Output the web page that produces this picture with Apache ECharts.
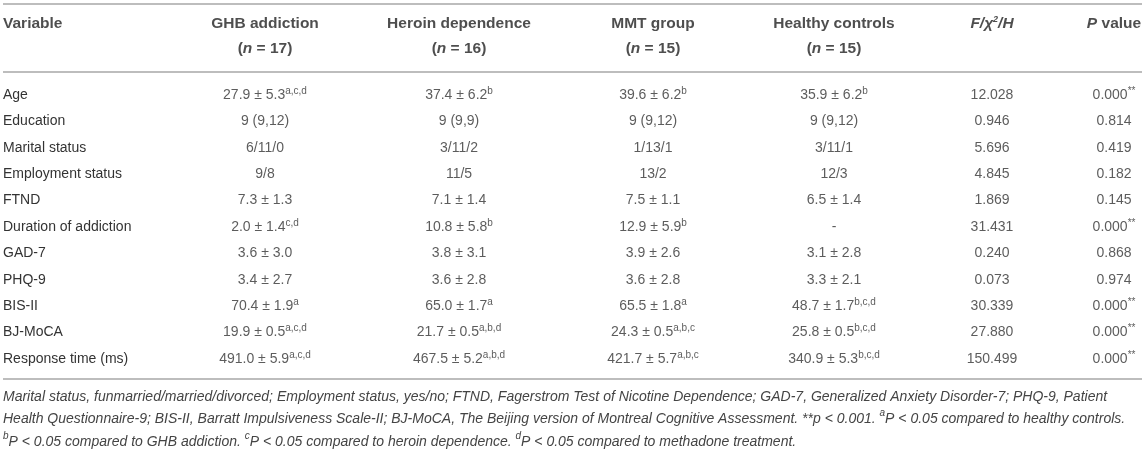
<!DOCTYPE html>
<html>
<head>
<meta charset="utf-8">
<script src="https://cdn.jsdelivr.net/npm/echarts@6/dist/echarts.min.js"></script>
<style>
html,body{margin:0;padding:0;background:#fff;}
#chart{width:1145px;height:449px;}
</style>
</head>
<body>
<div id="chart"></div>
<script>
// ---------- data ----------
const variables = ['Age','Education','Marital status','Employment status','FTND','Duration of addiction','GAD-7','PHQ-9','BIS-II','BJ-MoCA','Response time (ms)'];
const groups = ['GHB addiction','Heroin dependence','MMT group','Healthy controls'];
const groupN = [17, 16, 15, 15];
const ghb = ['27.9 ± 5.3^a,c,d','9 (9,12)','6/11/0','9/8','7.3 ± 1.3','2.0 ± 1.4^c,d','3.6 ± 3.0','3.4 ± 2.7','70.4 ± 1.9^a','19.9 ± 0.5^a,c,d','491.0 ± 5.9^a,c,d'];
const heroin = ['37.4 ± 6.2^b','9 (9,9)','3/11/2','11/5','7.1 ± 1.4','10.8 ± 5.8^b','3.8 ± 3.1','3.6 ± 2.8','65.0 ± 1.7^a','21.7 ± 0.5^a,b,d','467.5 ± 5.2^a,b,d'];
const mmt = ['39.6 ± 6.2^b','9 (9,12)','1/13/1','13/2','7.5 ± 1.1','12.9 ± 5.9^b','3.9 ± 2.6','3.6 ± 2.8','65.5 ± 1.8^a','24.3 ± 0.5^a,b,c','421.7 ± 5.7^a,b,c'];
const healthy = ['35.9 ± 6.2^b','9 (9,12)','3/11/1','12/3','6.5 ± 1.4','-','3.1 ± 2.8','3.3 ± 2.1','48.7 ± 1.7^b,c,d','25.8 ± 0.5^b,c,d','340.9 ± 5.3^b,c,d'];
const fStat = [12.028, 0.946, 5.696, 4.845, 1.869, 31.431, 0.240, 0.073, 30.339, 27.880, 150.499];
const pValue = [0.000, 0.814, 0.419, 0.182, 0.145, 0.000, 0.868, 0.974, 0.000, 0.000, 0.000];
const footLines = [
  'Marital status, funmarried/married/divorced; Employment status, yes/no; FTND, Fagerstrom Test of Nicotine Dependence; GAD-7, Generalized Anxiety Disorder-7; PHQ-9, Patient',
  'Health Questionnaire-9; BIS-II, Barratt Impulsiveness Scale-II; BJ-MoCA, The Beijing version of Montreal Cognitive Assessment. **p < 0.001. ^aP < 0.05 compared to healthy controls.',
  '^bP < 0.05 compared to GHB addiction. ^cP < 0.05 compared to heroin dependence. ^dP < 0.05 compared to methadone treatment.'
];

// ---------- layout (not data) ----------
const W = 1145;
const colX = [265, 459, 653, 834, 992, 1114];
const varX = 3;
const FONT = 'Liberation Sans, Arial, Helvetica, sans-serif';
const TXT = '#333';

function cellRich(s) {
  const parts = s.split('^');
  return '{m|' + parts[0] + '}' + (parts[1] ? '{s|' + parts[1] + '}' : '');
}
function pRich(v) {
  return v < 0.001 ? '{m|' + v.toFixed(3) + '}{s|**}' : '{m|' + v.toFixed(3) + '}';
}
function footRich(line) {
  return '{f|' + line.replace(/\^([a-d])/g, '}{fs|$1}{f|') + '}';
}

const bodyData = [];
const groupCols = [ghb, heroin, mmt, healthy];
groupCols.forEach((col, c) => col.forEach((t, r) => bodyData.push({ value: [colX[c], r], txt: cellRich(t) })));
fStat.forEach((v, r) => bodyData.push({ value: [colX[4], r], txt: '{m|' + v.toFixed(3) + '}' }));
pValue.forEach((v, r) => bodyData.push({ value: [colX[5], r], txt: pRich(v) }));

const headData = [{ value: [varX, 0], txt: '{hb|Variable}', label: { align: 'left' } }];
groups.forEach((g, c) => {
  headData.push({ value: [colX[c], 0], txt: '{hb|' + g + '}' });
  headData.push({ value: [colX[c], 1], txt: '{hb|(}{hi|n}{hb| = ' + groupN[c] + ')}' });
});
headData.push({ value: [colX[4], 0], txt: '{hi|F/χ}{hs|2}{hi|/H}' });
headData.push({ value: [colX[5], 0], txt: '{hi|P}{hb| value}' });

const bodyRich = {
  m: { fontFamily: FONT, fontSize: 14, color: TXT, lineHeight: 18 },
  s: { fontFamily: FONT, fontSize: 10, color: TXT, lineHeight: 12, verticalAlign: 'top' }
};
const headRich = {
  hb: { fontFamily: FONT, fontSize: 15.5, fontWeight: 'bold', color: '#222', lineHeight: 18 },
  hi: { fontFamily: FONT, fontSize: 15.5, fontWeight: 'bold', fontStyle: 'italic', color: '#222', lineHeight: 18 },
  hs: { fontFamily: FONT, fontSize: 9, fontWeight: 'bold', fontStyle: 'italic', color: '#222', lineHeight: 12, verticalAlign: 'top' }
};
const footRichStyle = {
  f: { fontFamily: FONT, fontSize: 14, fontStyle: 'italic', color: '#444', lineHeight: 22.5 },
  fs: { fontFamily: FONT, fontSize: 10, fontStyle: 'italic', color: '#444', lineHeight: 15, verticalAlign: 'top' }
};

const chart = echarts.init(document.getElementById('chart'), null, { renderer: 'canvas' });
const lineStyle = { stroke: '#bdbdbd', lineWidth: 2 };
chart.setOption({
  animation: false,
  backgroundColor: '#fff',
  title: {
    text: footLines.map(footRich).join('\n'),
    left: varX, top: 385.75, padding: 0,
    textStyle: { fontFamily: FONT, fontSize: 14, fontStyle: 'italic', fontWeight: 'normal', color: '#444', lineHeight: 22.5, rich: footRichStyle }
  },
  grid: [
    { left: 0, right: 0, top: 11.5, height: 50 },
    { left: 0, right: 0, top: 81.8, height: 290.4 }
  ],
  xAxis: [
    { gridIndex: 0, type: 'value', min: 0, max: W, show: false },
    { gridIndex: 1, type: 'value', min: 0, max: W, show: false }
  ],
  yAxis: [
    { gridIndex: 0, type: 'category', inverse: true, data: ['row1', 'row2'], show: false },
    { gridIndex: 1, type: 'category', inverse: true, data: variables,
      axisLine: { show: false }, axisTick: { show: false }, splitLine: { show: false },
      axisLabel: { inside: true, margin: varX, interval: 0, fontFamily: FONT, fontSize: 14, color: TXT } }
  ],
  series: [
    { type: 'scatter', xAxisIndex: 0, yAxisIndex: 0, data: headData, symbolSize: 1, silent: true,
      itemStyle: { color: 'rgba(0,0,0,0)' },
      label: { show: true, position: 'inside', formatter: p => p.data.txt, rich: headRich } },
    { type: 'scatter', xAxisIndex: 1, yAxisIndex: 1, data: bodyData, symbolSize: 1, silent: true,
      itemStyle: { color: 'rgba(0,0,0,0)' },
      label: { show: true, position: 'inside', formatter: p => p.data.txt, rich: bodyRich } }
  ],
  graphic: [
    { type: 'line', shape: { x1: 3, y1: 4, x2: 1142, y2: 4 }, style: lineStyle, silent: true },
    { type: 'line', shape: { x1: 3, y1: 72, x2: 1142, y2: 72 }, style: lineStyle, silent: true },
    { type: 'line', shape: { x1: 3, y1: 379, x2: 1142, y2: 379 }, style: lineStyle, silent: true }
  ]
});
</script>
</body>
</html>
